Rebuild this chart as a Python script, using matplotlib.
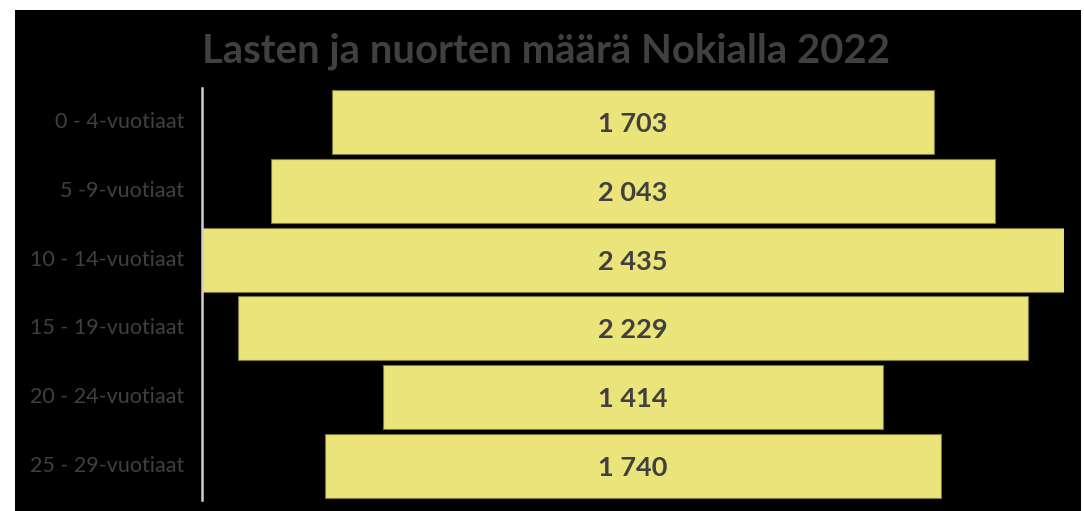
import matplotlib
matplotlib.use("Agg")
import matplotlib.pyplot as plt
import matplotlib.transforms as mtransforms
from matplotlib.patches import Rectangle

categories = ["0 - 4-vuotiaat", "5 -9-vuotiaat", "10 - 14-vuotiaat",
              "15 - 19-vuotiaat", "20 - 24-vuotiaat", "25 - 29-vuotiaat"]
values = [1703, 2043, 2435, 2229, 1414, 1740]
value_labels = ["1 703", "2 043", "2 435", "2 229", "1 414", "1 740"]
title = "Lasten ja nuorten määrä Nokialla 2022"

W, H = 1084, 511
fig = plt.figure(figsize=(W / 100, H / 100), dpi=100, facecolor="white")
plt.rcParams["font.family"] = ["Lato", "DejaVu Sans"]

# black chart area
fig.patches.append(Rectangle((15 / W, 0), (1081 - 15) / W, (H - 10) / H,
                             transform=fig.transFigure, facecolor="black",
                             edgecolor="none", zorder=-10))

ax = fig.add_axes([202 / W, (H - 500) / H, (1064 - 202) / W, (500 - 88) / H])
ax.set_zorder(1)
ax.set_facecolor("black")
vmax = max(values)
ax.set_xlim(-vmax / 2, vmax / 2)
ax.set_ylim(len(values) - 0.5, -0.5)

ypos = list(range(len(values)))
lefts = [-v / 2 for v in values]
ax.barh(ypos, values, left=lefts, height=0.935, color="#EBE47A",
        edgecolor="#7d7838", linewidth=0.8, zorder=2)

for y, lab in zip(ypos, value_labels):
    ax.text(0, y + 0.03, lab, ha="center", va="center", fontsize=19.5,
            fontweight="bold", color="#404040", zorder=3)

ax.set_yticks(ypos)
ax.set_yticklabels(categories, fontsize=15.5, color="#404040")
offset = mtransforms.ScaledTranslation(0, -3 / 100, fig.dpi_scale_trans)
for t in ax.get_yticklabels():
    t.set_va("center")
    t.set_transform(t.get_transform() + offset)
ax.tick_params(axis="y", length=0, pad=13)
ax.set_xticks([])
for s in ["top", "right", "bottom"]:
    ax.spines[s].set_visible(False)
ax.spines["left"].set_color("#d0d0d0")
ax.spines["left"].set_linewidth(1.8)
ax.spines["left"].set_zorder(4)

fig.text(546 / W, 1 - 51 / H, title, ha="center", va="center", fontsize=28.8,
         fontweight="bold", color="#404040", zorder=5)

fig.savefig("out.png", dpi=100, facecolor="white")
